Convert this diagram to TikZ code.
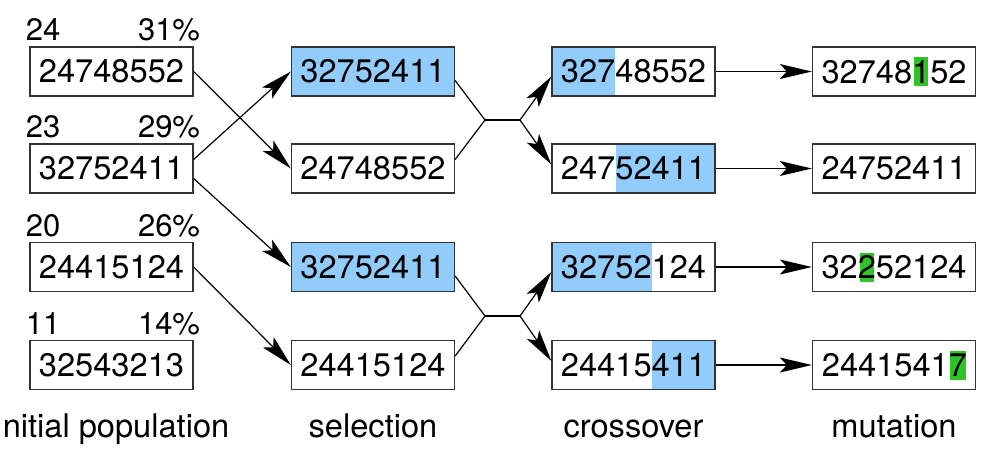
\documentclass[tikz,border=0pt]{standalone}
\usepackage{fontspec}
\setmainfont{TeX Gyre Heros}
\usetikzlibrary{arrows.meta}
\definecolor{selblue}{RGB}{146,204,250}
\definecolor{mutgreen}{RGB}{46,196,40}
\newcommand\mut[2][0.42em]{\hspace{\dimexpr(0.556em-#1)/2\relax}{\setlength\fboxsep{0pt}\colorbox{mutgreen}{\rule[-1.5pt]{0pt}{14.5pt}\makebox[#1]{#2}}}\hspace{\dimexpr(0.556em-#1)/2\relax}}
\tikzset{
  chrom/.style={draw=black!80, line width=0.65pt, minimum width=81.5pt, minimum height=24.5pt, inner sep=0pt, font=\fontsize{16.3}{19}\selectfont},
  sel/.style={chrom, fill=selblue},
  cutl/.style={chrom, path picture={\fill[selblue] (path picture bounding box.south west) rectangle ([xshift=#1]path picture bounding box.north);}},
  cutr/.style={chrom, path picture={\fill[selblue] ([xshift=#1]path picture bounding box.south) rectangle (path picture bounding box.north east);}},
  lab/.style={font=\fontsize{15.5}{18}\selectfont, inner sep=0pt},
  stage/.style={font=\fontsize{16.3}{19}\selectfont, anchor=base, inner sep=0pt}
}
\begin{document}
\begin{tikzpicture}[>={Stealth[length=16pt,width=7.5pt,inset=3.5pt]}, x=0.5pt, y=-0.5pt, line width=0.6pt]
     \useasboundingbox (0,0) rectangle (998,473);
     % initial population
     \foreach \g/\f/\p/\y [count=\i] in {24748552/24/31/71.5, 32752411/23/29/168.5, 24415124/20/26/267, 32543213/11/14/365}
     {
         \node[chrom] (p\i) at (111.5,\y) {\g};
         \node[lab, anchor=base west] (f\i) at ([xshift=-2pt,yshift=2.8pt]p\i.north west) {\f};
         \node[lab, anchor=base east] (q\i) at ([xshift=3.5pt,yshift=2.8pt]p\i.north east) {\p\%};
     }
     % selection
     \node[sel] (s1) at (373,71.5) {32752411};
     \node[chrom] (s2) at (373,168.5) {24748552};
     \node[sel] (s3) at (373,267) {32752411};
     \node[chrom] (s4) at (373,365) {24415124};
     % crossover
     \node[cutl=-9.5pt] (c1) at (633.5,71.5) {32748552};
     \node[cutr=-9pt] (c2) at (633.5,168.5) {24752411};
     \node[cutl=9pt] (c3) at (633.5,267) {32752124};
     \node[cutr=9pt] (c4) at (633.5,365) {24415411};
     % mutation
     \node[chrom] (m1) at (894,71.5) {32748\mut{1}52};
     \node[chrom] (m2) at (894,168.5) {24752411};
     \node[chrom] (m3) at (894,267) {32\mut{2}52124};
     \node[chrom] (m4) at (894,365) {2441541\mut[0.5em]{7}};
     % stage names
     \node[stage] (t1) at (111.5,437) {Initial population};
     \node[stage] (t2) at (373,437) {selection};
     \node[stage] (t3) at (633.5,437) {crossover};
     \node[stage] (t4) at (894,437) {mutation};
     % selection arrows
     \draw[->] (p1.east) -- (s2.west);
     \draw[->] ([yshift=4.5pt]p2.east) -- (s1.west);
     \draw[->] ([yshift=-5pt]p2.east) -- (s3.west);
     \draw[->] (p3.east) -- (s4.west);
     % crossover joints
     \coordinate (j1) at (485,120);
     \coordinate (k1) at (520,120);
     \coordinate (j2) at (485,316);
     \coordinate (k2) at (520,316);
     \draw ([yshift=-4.5pt]s1.east) -- (j1) -- ([yshift=4.5pt]s2.east);
     \draw (j1) -- (k1);
     \draw[->] (k1) -- ([yshift=-2.5pt]c1.west);
     \draw[->] (k1) -- ([yshift=2pt]c2.west);
     \draw ([yshift=-4.5pt]s3.east) -- (j2) -- ([yshift=4.5pt]s4.east);
     \draw (j2) -- (k2);
     \draw[->] (k2) -- ([yshift=-2.5pt]c3.west);
     \draw[->] (k2) -- ([yshift=2pt]c4.west);
     % mutation arrows
     \foreach \i in {1,2,3,4}
     {
         \draw[->] (c\i.east) -- (m\i.west);
     }
 \end{tikzpicture}
\end{document}
